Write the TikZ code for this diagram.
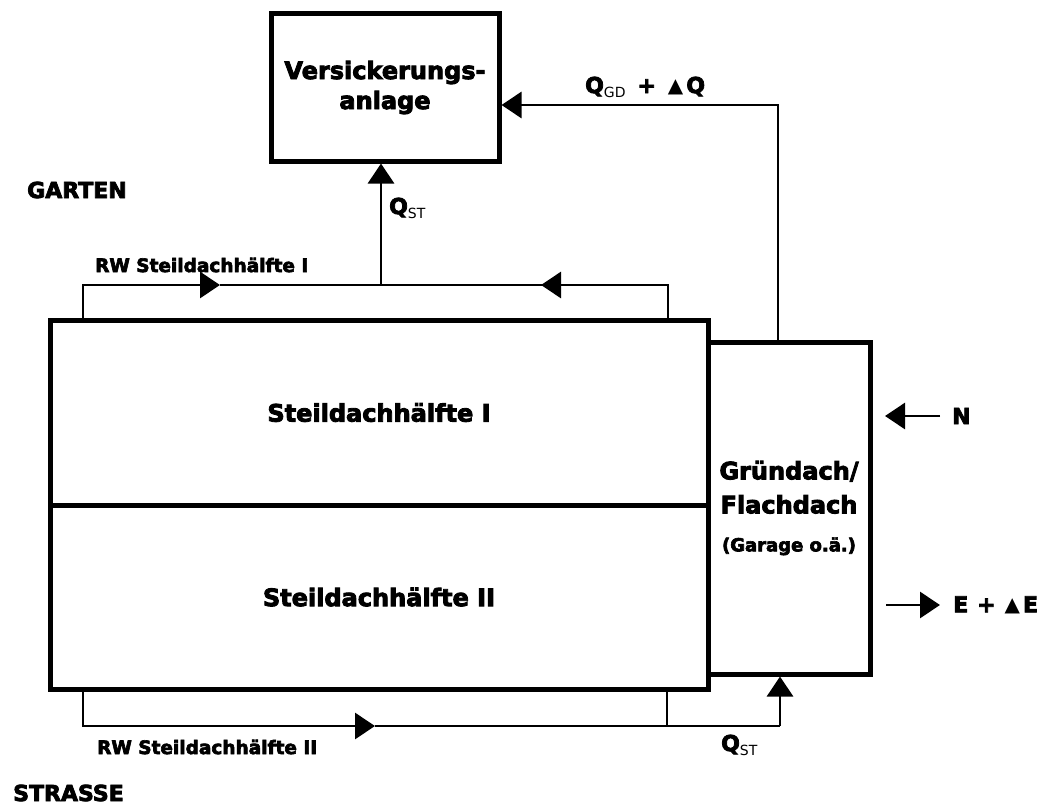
\documentclass[tikz,border=0pt]{standalone}
\usepackage{fontspec}
\setmainfont{DejaVu Sans}[BoldFeatures={FakeBold=3.5}]
\usetikzlibrary{arrows.meta,calc}
\newcommand{\fsz}[2]{\fontsize{#1}{#2}\selectfont}
\newcommand{\subt}[1]{\raisebox{-4pt}{\fontsize{14}{14}\selectfont\mdseries #1}}
\newcommand{\tri}{\raisebox{1pt}{\fontsize{20}{20}\selectfont\mdseries ▲}}
\begin{document}
\begin{tikzpicture}[x=1pt,y=-1pt,
  box/.style={draw, line width=5pt, inner sep=0pt, align=center, font=\fsz{24}{30}\bfseries},
  conn/.style={line width=2.8pt, >={Triangle[length=20pt,width=26pt]}},
  lbl/.style={inner sep=0pt, anchor=west, font=\fsz{22}{22}\bfseries},
  rwl/.style={inner sep=0pt, anchor=west, font=\fsz{18.5}{18.5}\bfseries}]
\useasboundingbox (0,0) rectangle (1050,808);
% boxes
\node[box, minimum width=228pt, minimum height=147pt] (vers) at (385,87.5) {Versickerungs-\\anlage};
\node[box, minimum width=658pt, minimum height=185pt] (s1) at (379,412.5) {Steildachhälfte I};
\node[box, minimum width=658pt, minimum height=184pt] (s2) at (379,597) {Steildachhälfte II};
\node[box, minimum width=162pt, minimum height=332pt, font=\fsz{24}{34}\bfseries] (gar) at (789,508) {Gründach/\\Flachdach\\[4pt]{\fsz{18}{18}(Garage o.ä.)}};
% labels
\node[lbl] (garten) at (27,190) {GARTEN};
\node[lbl] (strasse) at (13,793) {STRASSE};
\node[rwl] (rw1) at (95,265) {RW Steildachhälfte I};
\node[rwl] (rw2) at (97,747) {RW Steildachhälfte II};
\node[lbl] (qst1) at (389,208) {Q\subt{ST}};
\node[lbl] (qgd) at (585,87) {Q\subt{GD}\hspace{12pt}+\hspace{12pt}\tri\hspace{3pt}Q};
\node[lbl] (qst2) at (721,745) {Q\subt{ST}};
\node[lbl] (N) at (952,416) {N};
\node[lbl] (E) at (953,605) {E\hspace{9pt}+\hspace{9pt}\tri\hspace{3pt}E};
% top connectors
\coordinate (cL) at (83,285);
\coordinate (cR) at (668,285);
\coordinate (j1) at (381,285);
\coordinate (aL) at (220,285);
\coordinate (aR) at (541,285);
\draw[conn,->] (cL |- s1.north) -- (cL) -- (aL);
\draw[conn] (aL) -- (cR) -- (cR |- s1.north);
\draw[conn,->] (cR) -- (aR);
\draw[conn,->] (j1) -- (j1 |- vers.south);
% garage to Versickerung
\coordinate (gq) at (778,105);
\draw[conn,->] (gq |- gar.north) -- (gq) -- (gq -| vers.east);
% bottom connectors
\coordinate (bL) at (83,726);
\coordinate (bA) at (375,726);
\coordinate (bM) at (667,726);
\coordinate (bR) at (780,726);
\draw[conn,->] (bL |- s2.south) -- (bL) -- (bA);
\draw[conn] (bA) -- (bR);
\draw[conn] (bM |- s2.south) -- (bM);
\draw[conn,->] (bR) -- (bR |- gar.south);
% N and E arrows
\coordinate (nA) at (885,416);
\draw[conn,->] ([xshift=-12pt]N.west) -- (nA |- N.west);
\coordinate (eA) at (886,605);
\draw[conn,->] (eA |- E.west) -- ([xshift=-13pt]E.west);
\end{tikzpicture}
\end{document}
